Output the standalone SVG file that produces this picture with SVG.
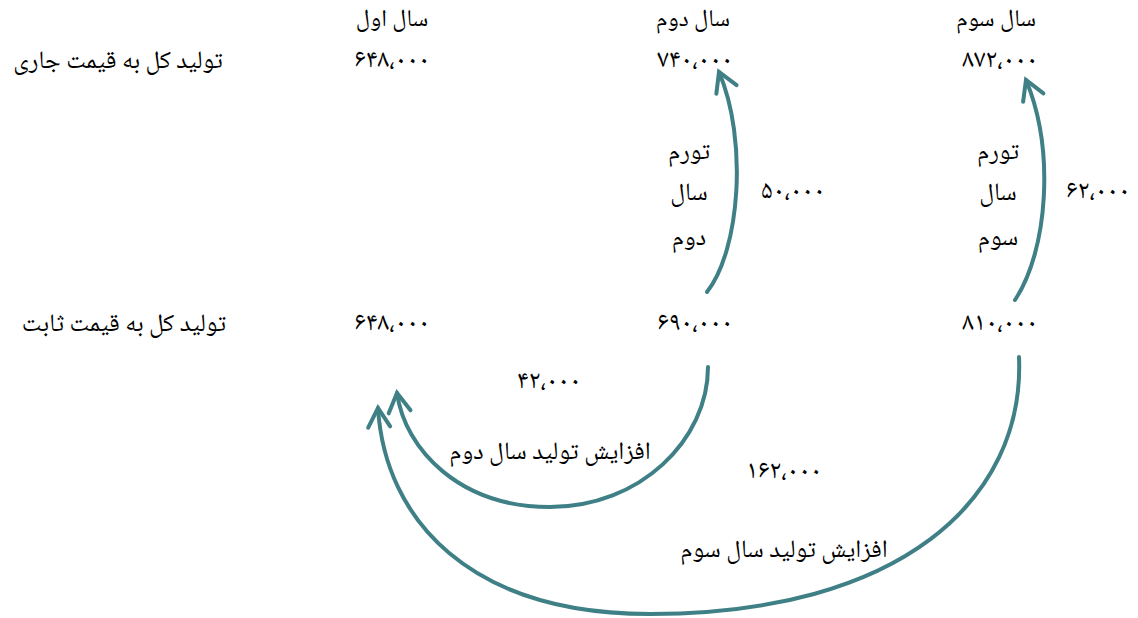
<svg xmlns="http://www.w3.org/2000/svg" width="1138" height="618" viewBox="0 0 1138 618">
<style>
text{font-family:"Noto Naskh Arabic","Noto Sans Arabic","DejaVu Sans",sans-serif;font-size:25px;fill:#000;text-anchor:middle;direction:rtl}
text.n{font-size:26px;letter-spacing:2px}
text.h{font-size:24px}
.c{fill:none;stroke:#3F7F86;stroke-width:4;stroke-linecap:round}
</style>
<defs>
<marker id="ah" markerUnits="userSpaceOnUse" markerWidth="40" markerHeight="40" refX="20" refY="20" orient="auto" overflow="visible">
<path d="M1,9 L20,20 L1,31" fill="none" stroke="#3F7F86" stroke-width="4" stroke-linecap="round" stroke-linejoin="miter"/>
</marker>
</defs>
<rect width="1138" height="618" fill="#fff"/>
<g id="headers">
<text class="h" x="392" y="26">سال اول</text>
<text class="h" x="693" y="26">سال دوم</text>
<text class="h" x="996" y="26">سال سوم</text>
</g>
<g id="row-current">
<text x="118" y="68">تولید کل به قیمت جاری</text>
<text class="n" x="392" y="67">۶۴۸،۰۰۰</text>
<text class="n" x="695" y="67">۷۴۰،۰۰۰</text>
<text class="n" x="1000" y="67">۸۷۲،۰۰۰</text>
</g>
<g id="row-constant">
<text x="124" y="331">تولید کل به قیمت ثابت</text>
<text class="n" x="392" y="330">۶۴۸،۰۰۰</text>
<text class="n" x="695" y="330">۶۹۰،۰۰۰</text>
<text class="n" x="1000" y="330">۸۱۰،۰۰۰</text>
</g>
<g id="inflation-2">
<text x="689" y="159">تورم</text>
<text x="689" y="200">سال</text>
<text x="689" y="245">دوم</text>
<text class="n" x="793" y="198">۵۰،۰۰۰</text>
</g>
<g id="inflation-3">
<text x="998" y="159">تورم</text>
<text x="998" y="200">سال</text>
<text x="998" y="245">سوم</text>
<text class="n" x="1098" y="198">۶۲،۰۰۰</text>
</g>
<g id="growth-2">
<text class="n" x="549" y="388">۴۲،۰۰۰</text>
<text x="550" y="459">افزایش تولید سال دوم</text>
</g>
<g id="growth-3">
<text class="n" x="784" y="478">۱۶۲،۰۰۰</text>
<text x="784" y="557">افزایش تولید سال سوم</text>
</g>
<g id="connectors">
<path class="c" marker-end="url(#ah)" d="M707,292 C740,250 748,140 719,72"/>
<path class="c" marker-end="url(#ah)" d="M1015,300 C1048,250 1055,150 1026,80"/>
<path class="c" marker-end="url(#ah)" d="M708,367 C708,440 640,507 550,507 C460,507 405,450 397,393"/>
<path class="c" marker-end="url(#ah)" d="M1019,357 C1025,500 900,614 650,614 C470,614 385,520 378,408"/>
</g>
</svg>
